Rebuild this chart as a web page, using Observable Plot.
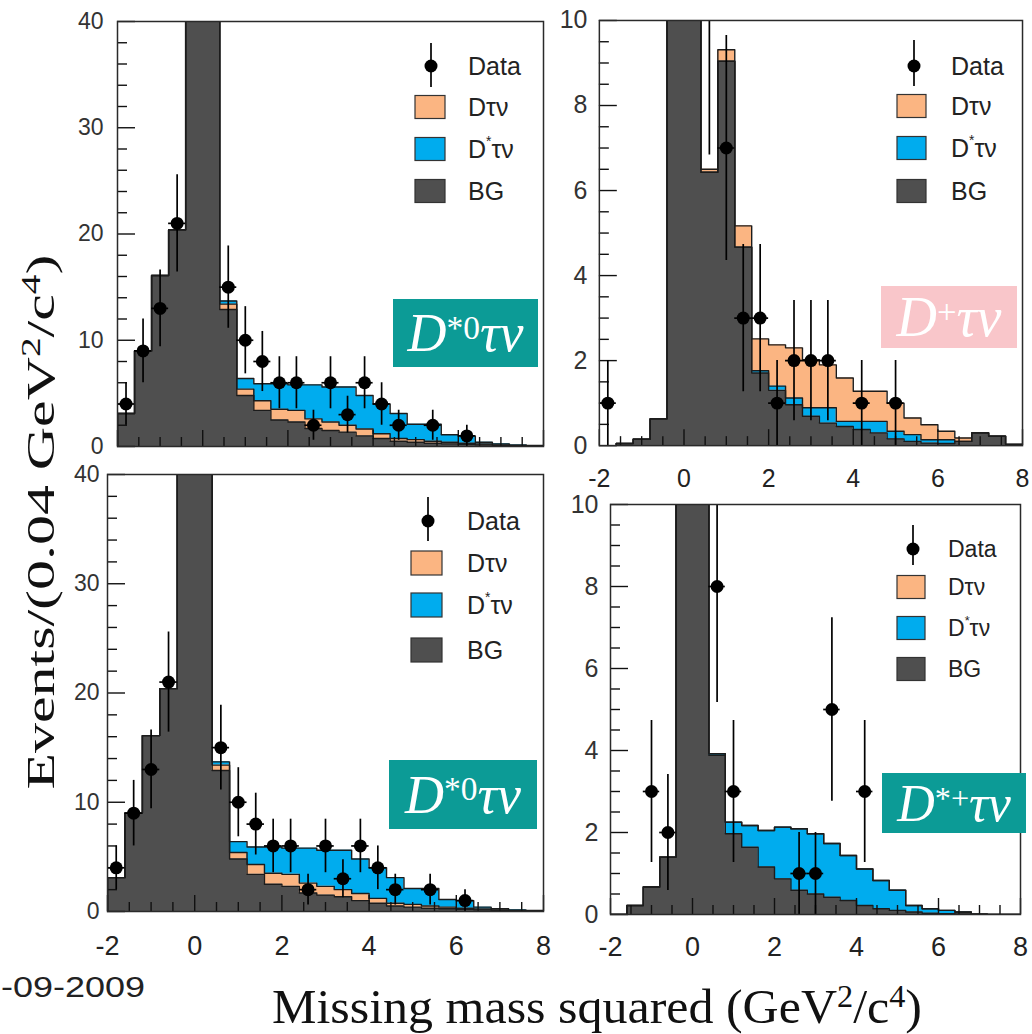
<!DOCTYPE html>
<html><head><meta charset="utf-8">
<script src="https://cdn.jsdelivr.net/npm/d3@7"></script>
<script src="https://cdn.jsdelivr.net/npm/@observablehq/plot@0.6"></script>
<style>
html,body{margin:0;padding:0;background:#fff;}
#page{position:relative;width:1032px;height:1034px;overflow:hidden;background:#fff;font-family:"Liberation Sans",Arial,sans-serif;}
.panel{position:absolute;}
.panel svg{overflow:visible;}
.tag{position:absolute;display:flex;align-items:center;justify-content:center;color:#fff;font-family:"Liberation Serif","DejaVu Serif",serif;white-space:nowrap;}
.tag .it{font-style:italic;}
.tag sup{font-size:0.62em;position:relative;top:-0.15em;vertical-align:super;line-height:0;}
#overlay{position:absolute;left:0;top:0;}
</style></head>
<body><div id="page"></div>
<script>
// ---------- data ----------
const binStart = [-2.0,-1.6,-1.2,-0.8,-0.4,0.0,0.4,0.8,1.2,1.6,2.0,2.4,2.8,3.2,3.6,4.0,4.4,4.8,5.2,5.6,6.0,6.4,6.8,7.2,7.6];
const binWidth = 0.4;
const seriesNames = ["Data", "Dτν", "D*τν", "BG"];
const seriesColors = {"Dτν": "#fbb582", "D*τν": "#00acee", "BG": "#4f4f4f"};

// D*0 tau nu (top-left and bottom-left panels show the same histogram)
const dstar0_data = [4,9,13,21,null,null,15,10,8,6,6,2,6,3,6,4,2,0,2,0,1,0,0,0,0];
const dstar0_bg   = [3.1,9.0,16.1,20.4,62,58,12.9,4.8,3.4,2.5,2.3,1.7,1.5,1.35,1.0,0.75,0.5,0.4,0.3,0.25,0.2,0.15,0.1,0.05,0.03];
const dstar0_dtn  = [0,0,0,0,0,0,0.5,0.6,0.9,1.0,1.1,0.9,0.8,0.65,0.65,0.45,0.25,0.25,0.2,0.15,0.1,0.08,0.05,0.03,0.02];
const dstar0_dstn = [0,0,0,0,0,0,0.3,1.0,1.6,2.4,2.4,3.2,3.3,3.6,3.15,2.8,2.35,1.45,1.6,0.7,0.7,0.17,0.1,0.07,0.05];

// D+ tau nu (top-right)
const dplus_data = [1,0,0,0,null,null,10,7,3,3,1,2,2,2,0,1,0,1,0,0,0,0,0,0,0];
const dplus_bg   = [0,0.05,0.15,0.63,14,13,6.43,9.04,4.67,1.71,1.3,0.96,0.69,0.53,0.45,0.38,0.3,0.16,0.1,0.06,0.05,0.1,0.3,0.22,0.03];
const dplus_dstn = [0,0,0,0,0,0,0,0,0,0.05,0.1,0.16,0.2,0.36,0.12,0.19,0.27,0.18,0.16,0.08,0.09,0,0,0,0];
const dplus_dtn  = [0,0,0,0,0,0,0.07,0.27,0.5,0.75,0.97,1.18,1.13,1.01,1.02,0.71,0.71,0.66,0.39,0.35,0.2,0.08,0,0,0];

// D*+ tau nu (bottom-right)
const dstarp_data = [0,0,3,2,null,null,8,3,0,0,0,1,1,5,0,3,0,0,0,0,0,0,0,0,0];
const dstarp_bg   = [0,0.22,0.67,1.4,25,22,3.88,1.97,1.64,1.16,0.87,0.59,0.5,0.42,0.34,0.22,0.14,0.1,0.06,0.03,0.02,0.04,0.01,0,0];
const dstarp_dstn = [0,0,0,0,0,0,0.04,0.28,0.53,0.89,1.26,1.5,1.47,1.31,1.1,0.89,0.69,0.49,0.16,0.11,0.08,0.02,0,0,0];
const dstarp_dtn  = [0,0,0,0,0,0,0,0,0,0,0,0,0,0,0,0,0,0,0,0,0,0,0,0,0];

const xTicksMajor = [-2,0,2,4,6,8];
const xTicksMinor = [-1.5,-1,-0.5,0.5,1,1.5,2.5,3,3.5,4.5,5,5.5,6.5,7,7.5];
const yTicks40 = [0,10,20,30,40];
const yMinor40 = [2,4,6,8,12,14,16,18,22,24,26,28,32,34,36,38];
const yTicks10 = [0,2,4,6,8,10];
const yMinor10 = [0.5,1,1.5,2.5,3,3.5,4.5,5,5.5,6.5,7,7.5,8.5,9,9.5];

// ---------- layout ----------
const panels = [
  {id:"tl", frame:[117,21,543,446], ymax:40, yTicks:yTicks40, yMinor:yMinor40, yFont:23, yPad:14, xLabels:false,
   data:dstar0_data, layers:[["BG",dstar0_bg],["Dτν",dstar0_dtn],["D*τν",dstar0_dstn]],
   legend:{mx:431, bar:[43,87], tx:468, rows:[66,107,149,191], bx:415, bw:30, bh:23, fs:25},
   tag:{x:393,y:299,w:145,h:68,bg:"#0c9b96", sup:"*0", fs:54}},
  {id:"tr", frame:[599,20,1023,446], ymax:10, yTicks:yTicks10, yMinor:yMinor10, yFont:25, yPad:12, xLabels:true, xFont:25, xPad:24,
   data:dplus_data, layers:[["BG",dplus_bg],["D*τν",dplus_dstn],["Dτν",dplus_dtn]],
   legend:{mx:914, bar:[40,86], tx:951, rows:[66,106,148,191], bx:897, bw:29, bh:23, fs:25},
   tag:{x:881,y:286,w:136,h:62,bg:"#f9c6ca", sup:"+", fs:56}},
  {id:"bl", frame:[107,474,543,911], ymax:40, yTicks:yTicks40, yMinor:yMinor40, yFont:23, yPad:8, xLabels:true, xFont:27, xPad:24,
   data:dstar0_data, layers:[["BG",dstar0_bg],["Dτν",dstar0_dtn],["D*τν",dstar0_dstn]],
   legend:{mx:428, bar:[497,541], tx:467, rows:[521,563,605,650], bx:411, bw:31, bh:24, fs:25},
   tag:{x:389,y:760,w:148,h:69,bg:"#0c9b96", sup:"*0", fs:54}},
  {id:"br", frame:[610,504,1020,914], ymax:10, yTicks:yTicks10, yMinor:yMinor10, yFont:25, yPad:12, xLabels:true, xFont:27, xPad:22,
   data:dstarp_data, layers:[["BG",dstarp_bg],["D*τν",dstarp_dstn],["Dτν",dstarp_dtn]],
   legend:{mx:913, bar:[525,565], tx:948, rows:[549,587,628,669], bx:897, bw:28, bh:23, fs:23},
   tag:{x:882,y:773,w:144,h:60,bg:"#0c9b96", sup:"*+", fs:52}}
];

const page = document.getElementById("page");
const ML = 70, MR = 10, MT = 10, MB = 60;
const xEnd = binStart[binStart.length-1] + binWidth;
const plainFmt = d => String(d);

for (const p of panels) {
  const [L,T,R,B] = p.frame;
  const fw = R - L, fh = B - T;
  // cumulative stacking
  let base = binStart.map(() => 0);
  const areaMarks = [], lineMarks = [];
  for (const [name, vals] of p.layers) {
    const pts = binStart.map((x, i) => ({x, y1: base[i], y2: base[i] + vals[i]}));
    pts.push({x: xEnd, y1: pts[pts.length-1].y1, y2: pts[pts.length-1].y2});
    areaMarks.push(Plot.areaY(pts, {x:"x", y1:"y1", y2:"y2", fill: seriesColors[name], curve:"step-after", clip:true}));
    const top = [{x: binStart[0], y: 0}, ...pts.map(d => ({x: d.x, y: d.y2}))];
    lineMarks.push(Plot.line(top, {x:"x", y:"y", curve:"step-after", stroke:"#1c1c1c", strokeWidth:1.4, clip:true}));
    base = base.map((b, i) => b + vals[i]);
  }
  const pts = binStart.map((x, i) => ({x0: x, x1: x + binWidth, xc: x + binWidth/2, n: p.data[i]}))
    .filter(d => d.n != null && d.n > 0)
    .map(d => ({...d, lo: d.n - Math.sqrt(d.n), hi: d.n + Math.sqrt(d.n)}));
  const shown = pts.filter(d => d.n < p.ymax);

  const marks = [
    ...areaMarks,
    ...lineMarks,
    Plot.tickX(xTicksMajor, {x: d => d, insetTop: fh - 16, stroke:"#111", strokeWidth:1.4}),
    Plot.tickX(xTicksMinor, {x: d => d, insetTop: fh - 9, stroke:"#111", strokeWidth:1.4}),
    Plot.tickY(p.yTicks, {y: d => d, insetRight: fw - 18, stroke:"#111", strokeWidth:1.4}),
    Plot.tickY(p.yMinor, {y: d => d, insetRight: fw - 10, stroke:"#111", strokeWidth:1.4}),
    Plot.ruleX(pts, {x:"xc", y1:"lo", y2:"hi", stroke:"#000", strokeWidth:1.7, clip:true}),
    Plot.ruleY(shown, {y:"n", x1:"x0", x2:"x1", stroke:"#000", strokeWidth:1.7, clip:true}),
    Plot.dot(shown, {x:"xc", y:"n", r:6.5, fill:"#000", stroke:"none"}),
    Plot.frame({stroke:"#2a2a2a", strokeWidth:1.5}),
    Plot.axisY({ticks: p.yTicks, tickFormat: plainFmt, tickSize:0, tickPadding:p.yPad, fontSize:p.yFont, fill:"#333", label:null})
  ];
  if (p.xLabels) marks.push(Plot.axisX({ticks: xTicksMajor, tickFormat: plainFmt, tickSize:0, tickPadding:p.xPad, fontSize:p.xFont, fill:"#222", label:null}));

  const chart = Plot.plot({
    width: fw + ML + MR, height: fh + MT + MB,
    marginLeft: ML, marginRight: MR, marginTop: MT, marginBottom: MB,
    x: {domain: [-2, 8], axis: p.xLabels ? undefined : null},
    y: {domain: [0, p.ymax]},
    style: {background: "transparent", fontFamily: "Liberation Sans, Arial, sans-serif", overflow: "visible"},
    marks
  });
  const wrap = document.createElement("div");
  wrap.className = "panel";
  wrap.style.left = (L - ML) + "px";
  wrap.style.top = (T - MT) + "px";
  wrap.appendChild(chart);
  page.appendChild(wrap);
}

// ---------- overlay: legends, titles ----------
const svg = d3.select(page).append("svg").attr("id","overlay").attr("width",1032).attr("height",1034)
  .style("pointer-events","none");

for (const p of panels) {
  const g = svg.append("g").attr("font-family","Liberation Sans, Arial, sans-serif").attr("fill","#222");
  const lg = p.legend;
  g.append("line").attr("x1",lg.mx).attr("x2",lg.mx).attr("y1",lg.bar[0]).attr("y2",lg.bar[1]).attr("stroke","#000").attr("stroke-width",1.7);
  g.append("circle").attr("cx",lg.mx).attr("cy",lg.rows[0]).attr("r",6.5).attr("fill","#000");
  const names = ["Dτν","D*τν","BG"];
  names.forEach((nm, i) => {
    const y = lg.rows[i+1];
    g.append("rect").attr("x",lg.bx).attr("y",y - lg.bh/2).attr("width",lg.bw).attr("height",lg.bh)
      .attr("fill",seriesColors[nm]).attr("stroke","#333").attr("stroke-width",1.2);
  });
  seriesNames.forEach((nm, i) => {
    const t = g.append("text").attr("x",lg.tx).attr("y",lg.rows[i]).attr("dy","0.36em").attr("font-size",lg.fs);
    if (nm === "D*τν") {
      t.append("tspan").text("D");
      t.append("tspan").attr("font-size",lg.fs*0.55).attr("dy","-0.9em").text("*");
      t.append("tspan").attr("dy","0.5em").text("τν");
    } else t.text(nm);
  });
}

// axis titles
const yt = svg.append("text").attr("transform","translate(54,522) rotate(-90)")
  .attr("text-anchor","middle").attr("font-family","Liberation Serif, Times New Roman, serif")
  .attr("font-size",41).attr("fill","#111").attr("textLength",535).attr("lengthAdjust","spacingAndGlyphs");
yt.append("tspan").text("Events/(0.04 GeV");
yt.append("tspan").attr("font-size",27).attr("dy",-14).text("2");
yt.append("tspan").attr("dy",14).text("/c");
yt.append("tspan").attr("font-size",27).attr("dy",-14).text("4");
yt.append("tspan").attr("dy",14).text(")");

const xt = svg.append("text").attr("x",272).attr("y",1023)
  .attr("font-family","Liberation Serif, Times New Roman, serif")
  .attr("font-size",48).attr("fill","#111").attr("textLength",650).attr("lengthAdjust","spacingAndGlyphs");
xt.append("tspan").text("Missing mass squared (GeV");
xt.append("tspan").attr("font-size",31).attr("dy",-16).text("2");
xt.append("tspan").attr("dy",16).text("/c");
xt.append("tspan").attr("font-size",31).attr("dy",-16).text("4");
xt.append("tspan").attr("dy",16).text(")");

svg.append("text").attr("x",1).attr("y",997).attr("font-family","Liberation Sans, Arial, sans-serif")
  .attr("font-size",29).attr("fill","#222").attr("textLength",144).attr("lengthAdjust","spacingAndGlyphs").text("-09-2009");

// ---------- panel tags ----------
for (const p of panels) {
  const t = p.tag;
  const d = document.createElement("div");
  d.className = "tag";
  Object.assign(d.style, {left: t.x+"px", top: t.y+"px", width: t.w+"px", height: t.h+"px", background: t.bg, fontSize: t.fs+"px"});
  d.innerHTML = `<span class="it">D</span><sup>${t.sup}</sup><span class="it">τν</span>`;
  page.appendChild(d);
}
</script>
</body></html>
